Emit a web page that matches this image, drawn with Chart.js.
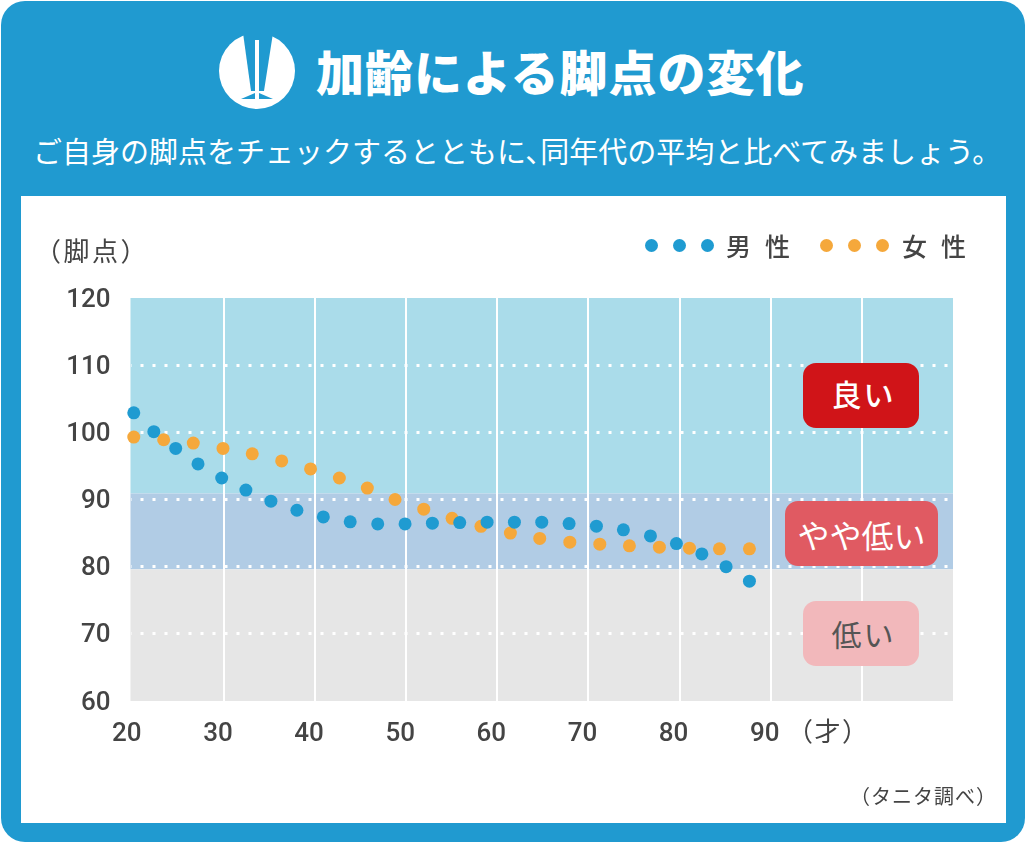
<!DOCTYPE html>
<html lang="ja">
<head>
<meta charset="utf-8">
<title>加齢による脚点の変化</title>
<script src="https://cdn.jsdelivr.net/npm/chart.js@4"></script>
<style>
  html, body { margin: 0; padding: 0; background: #fff; }
  body { width: 1026px; height: 843px; position: relative; overflow: hidden; font-family: "Noto Sans CJK JP", sans-serif; color: #444; }
  .card { position: absolute; left: 1px; top: 1px; width: 1024px; height: 841px; background: #209ad0; border-radius: 24px; }
  .panel { position: absolute; left: 21px; top: 196px; width: 985px; height: 627px; background: #fff; }
  canvas { position: absolute; left: 0; top: 0; }
  .txt { position: absolute; white-space: nowrap; line-height: 1; }
  #title { left: 316px; top: 46px; font-size: 48px; font-weight: 900; color: #fff; letter-spacing: 1px; }
  #sub { left: 33px; top: 136px; font-size: 29px; font-weight: 400; color: #fff; }
  #sub span { margin-right: -14px; }
  #icon { position: absolute; left: 219px; top: 33px; }
  .badge { position: absolute; display: flex; align-items: center; justify-content: center; border-radius: 13px; box-sizing: border-box; font-weight: 400; }
  .dot { position: absolute; width: 13px; height: 13px; border-radius: 50%; top: 239px; }
</style>
</head>
<body>
<div class="card"></div>
<div class="panel"></div>
<svg id="icon" width="76" height="76" viewBox="0 0 76 76">
  <circle cx="38" cy="38" r="38" fill="#fff"/>
  <polygon points="24,0 54,0 45,58 32,58" fill="#209ad0"/>
  <rect x="36" y="7" width="4" height="56" fill="#fff"/>
  <path d="M22 66 L36 60 L40 60 L54 66 Z" fill="#209ad0"/>
  <rect x="36" y="58" width="4" height="8" fill="#fff"/>
</svg>
<div class="txt" id="title">加齢による脚点の変化</div>
<div class="txt" id="sub">ご自身の脚点をチェックするとともに<span>、</span>同年代の平均と比べてみましょう。</div>
<canvas id="chart" width="1026" height="843"></canvas>
<div class="txt" style="left:35px;top:237px;font-size:26px;letter-spacing:2.5px">（脚点）</div>
<div class="txt" style="left:787px;top:717px;font-size:26px;letter-spacing:1.5px">（才）</div>
<div class="txt" style="left:850px;top:786px;font-size:20px;letter-spacing:1px">（タニタ調べ）</div>
<div class="dot" style="left:644.5px;background:#1f9bd1"></div>
<div class="dot" style="left:672.5px;background:#1f9bd1"></div>
<div class="dot" style="left:700.5px;background:#1f9bd1"></div>
<div class="txt" style="left:726px;top:233px;font-size:25px;font-weight:500;letter-spacing:14px">男性</div>
<div class="dot" style="left:820px;background:#f5a83b"></div>
<div class="dot" style="left:848px;background:#f5a83b"></div>
<div class="dot" style="left:876px;background:#f5a83b"></div>
<div class="txt" style="left:902px;top:233px;font-size:25px;font-weight:500;letter-spacing:14px">女性</div>
<div class="badge" style="left:803px;top:363px;width:116px;height:65px;padding:0 0 5px 5px;background:#d01418;color:#fff;font-size:30px;font-weight:500;letter-spacing:2px">良い</div>
<div class="badge" style="left:785px;top:501px;width:153px;height:65px;background:#e05a62;color:#fff;font-size:32px">やや低い</div>
<div class="badge" style="left:803px;top:601px;width:116px;height:65px;padding:0 0 2px 5px;background:#f2b8bb;color:#555;font-size:30px;letter-spacing:2px">低い</div>
<script>
const maleAge = [20.1, 22.3, 24.7, 27.15, 29.75, 32.4, 35.15, 38, 40.9, 43.85, 46.87, 49.87, 52.87, 55.87, 58.87, 61.87, 64.87, 67.87, 70.87, 73.83, 76.8, 79.65, 82.44, 85.1, 87.66];
const maleScore = [102.9, 100.1, 97.6, 95.3, 93.2, 91.4, 89.75, 88.4, 87.4, 86.67, 86.37, 86.37, 86.47, 86.56, 86.62, 86.62, 86.62, 86.41, 86.03, 85.48, 84.58, 83.44, 81.9, 80, 77.84];
const femaleAge = [20.1, 23.38, 26.63, 29.89, 33.1, 36.33, 39.5, 42.66, 45.73, 48.77, 51.92, 55.03, 58.2, 61.43, 64.65, 67.95, 71.24, 74.49, 77.78, 81.08, 84.37, 87.66];
const femaleScore = [99.3, 98.9, 98.4, 97.6, 96.8, 95.74, 94.55, 93.2, 91.7, 90, 88.56, 87.2, 86, 85, 84.2, 83.65, 83.35, 83.1, 82.9, 82.75, 82.65, 82.65];
const ageTicks = [20, 30, 40, 50, 60, 70, 80, 90, 100, 110];
const ageLabels = ["20", "30", "40", "50", "60", "70", "80", "90", "", ""];
const bandEdges = [120, 90.9, 79.6, 60];
const bandColors = ["#aadcea", "#b1cce5", "#e6e6e6"];

const toPoints = (xs, ys) => xs.map((x, i) => ({ x: x, y: ys[i] }));

// colored zones go under the grid lines
const bands = {
  id: "bands",
  beforeDraw(chart) {
    const { ctx, chartArea, scales } = chart;
    bandColors.forEach((color, i) => {
      const top = scales.y.getPixelForValue(bandEdges[i]);
      const bottom = scales.y.getPixelForValue(bandEdges[i + 1]);
      ctx.fillStyle = color;
      ctx.fillRect(chartArea.left, top, chartArea.right - chartArea.left, bottom - top);
    });
  },
};

const tickFont = { family: "Roboto", size: 26, weight: "500" };

new Chart(document.getElementById("chart"), {
  type: "scatter",
  data: {
    datasets: [
      { label: "男性", data: toPoints(maleAge, maleScore), backgroundColor: "#1f9bd1", pointRadius: 6.5, borderWidth: 0, clip: false },
      { label: "女性", data: toPoints(femaleAge, femaleScore), backgroundColor: "#f5a83b", pointRadius: 6.5, borderWidth: 0, clip: false },
    ],
  },
  plugins: [bands],
  options: {
    responsive: false,
    animation: false,
    devicePixelRatio: 1,
    layout: { padding: { top: 298, right: 73, left: 0, bottom: 0 } },
    plugins: { legend: { display: false }, tooltip: { enabled: false } },
    scales: {
      x: {
        type: "linear",
        min: 19.74,
        max: 110,
        afterBuildTicks(axis) { axis.ticks = ageTicks.map((v) => ({ value: v })); },
        afterFit(axis) { axis.height = 142; },
        grid: {
          color: (c) => (c.tick && c.tick.value > 20 && c.tick.value < 110 ? "#fff" : "transparent"),
          lineWidth: 2,
          drawTicks: false,
        },
        border: { display: false },
        ticks: {
          callback: (v) => ageLabels[ageTicks.indexOf(v)],
          autoSkip: false,
          maxRotation: 0,
          padding: 18,
          labelOffset: -6,
          color: "#444",
          font: tickFont,
        },
      },
      y: {
        min: 60,
        max: 120,
        afterFit(axis) { axis.width = 130.5; },
        grid: {
          color: (c) => (c.tick && c.tick.value > 60 && c.tick.value < 120 ? "#fff" : "transparent"),
          lineWidth: 3,
          drawTicks: false,
        },
        border: { display: false, dash: [3, 9], dashOffset: 2.5 },
        ticks: {
          stepSize: 10,
          padding: 20,
          labelOffset: 2,
          color: "#444",
          font: tickFont,
        },
      },
    },
  },
});
</script>
</body>
</html>
